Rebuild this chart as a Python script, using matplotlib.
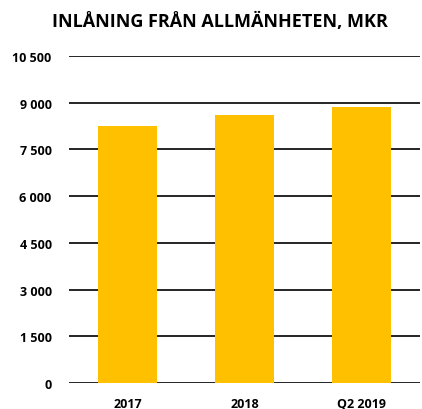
import matplotlib
matplotlib.use("Agg")
import matplotlib.pyplot as plt

categories = ["2017", "2018", "Q2 2019"]
values = [8240, 8590, 8850]
yticks = [0, 1500, 3000, 4500, 6000, 7500, 9000, 10500]
ytick_labels = ["0", "1 500", "3 000", "4 500", "6 000", "7 500", "9 000", "10 500"]
title = "INLÅNING FRÅN ALLMÄNHETEN, MKR"

plt.rcParams['font.family'] = ['Open Sans', 'DejaVu Sans']

fig = plt.figure(figsize=(4.22, 4.10), dpi=100)
ax = fig.add_axes([0.1635, 0.0634, 0.8315, 0.7976])
x = range(len(categories))
ax.bar(x, values, width=0.5, color="#FFC000", zorder=3)
ax.set_xlim(-0.5, len(categories) - 0.5)
ax.set_ylim(0, 10500)
ax.set_yticks(yticks)
ax.set_yticklabels(ytick_labels, fontsize=9, fontweight="bold")
ax.set_xticks(list(x))
ax.set_xticklabels(categories, fontsize=9, fontweight="bold")
for s in ax.spines.values():
    s.set_visible(False)
ax.grid(axis="y", color="black", linewidth=1.2, zorder=0)
ax.tick_params(axis="both", length=0)
ax.tick_params(axis="x", pad=10)
ax.tick_params(axis="y", pad=12.5)
fig.text(0.521, 0.947, title, ha="center", va="center", fontsize=13, fontweight="bold")
fig.savefig("out.png", dpi=100)
